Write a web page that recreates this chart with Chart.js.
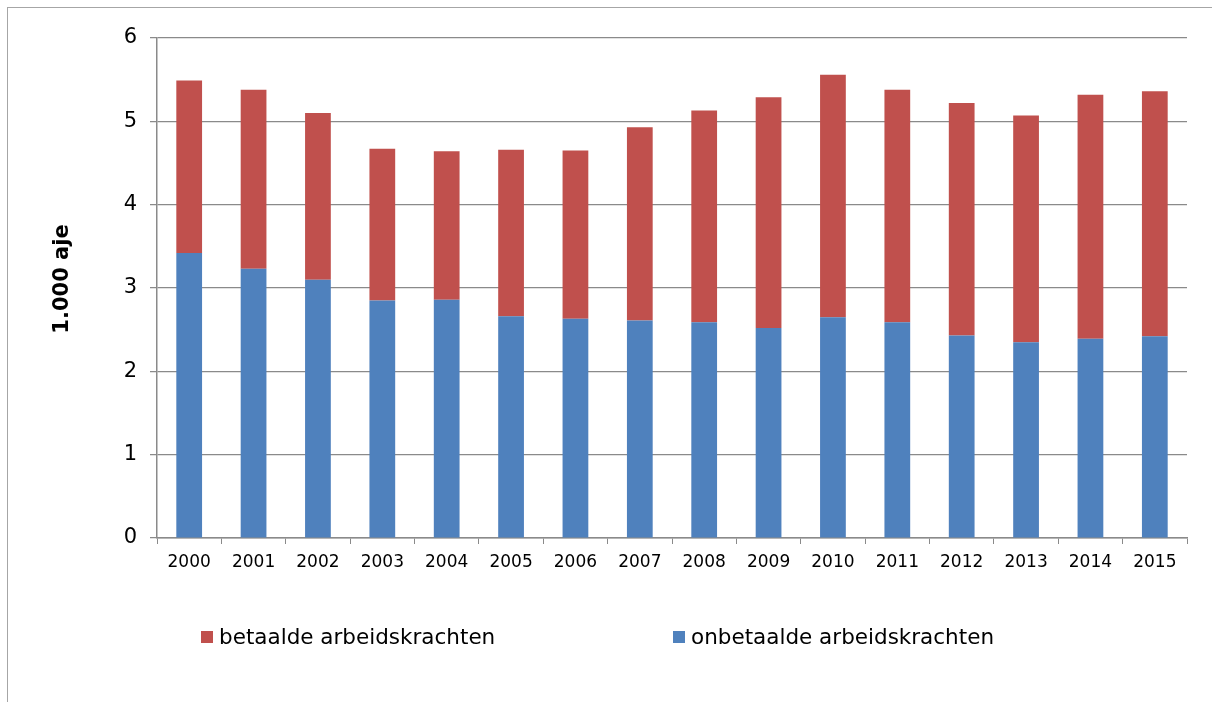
<!DOCTYPE html>
<html>
<head>
<meta charset="utf-8">
<script src="https://cdn.jsdelivr.net/npm/chart.js@4.4.1/dist/chart.umd.min.js"></script>
<style>
  html, body { margin: 0; padding: 0; background: #fff; }
  #wrap { position: relative; width: 1212px; height: 702px; overflow: hidden; }
  #frame { position: absolute; left: 7px; top: 7px; width: 1400px; height: 900px; border: 1px solid #a6a6a6; }
  #chart { position: absolute; left: 0; top: 0; }
</style>
</head>
<body>
<div id="wrap">
  <div id="frame"></div>
  <canvas id="chart" width="1212" height="702"></canvas>
</div>
<script>
const years = ['2000', '2001', '2002', '2003', '2004', '2005', '2006', '2007',
  '2008', '2009', '2010', '2011', '2012', '2013', '2014', '2015'];
const onbetaald = [3.42, 3.23, 3.10, 2.85, 2.86, 2.66, 2.63, 2.61,
  2.59, 2.52, 2.65, 2.59, 2.43, 2.35, 2.39, 2.42];
const betaald = [2.07, 2.15, 2.00, 1.82, 1.78, 2.00, 2.02, 2.32,
  2.54, 2.77, 2.91, 2.79, 2.79, 2.72, 2.93, 2.94];
const yTicks = [0, 1, 2, 3, 4, 5, 6];
const yTitle = '1.000 aje';

const FONT = '"DejaVu Sans", Verdana, sans-serif';
const gridGrey = '#8a8a8a';

// legend drawn by hand so the items sit where Excel put them
const legendItems = [
  { label: 'betaalde arbeidskrachten', color: '#C0504D', x: 201 },
  { label: 'onbetaalde arbeidskrachten', color: '#4F81BD', x: 673 }
];

const excelLegend = {
  id: 'excelLegend',
  afterDraw(chart) {
    const ctx = chart.ctx;
    const y = 637;
    ctx.save();
    ctx.font = '21.5px ' + FONT;
    ctx.textBaseline = 'middle';
    ctx.textAlign = 'left';
    legendItems.forEach(item => {
      ctx.fillStyle = item.color;
      ctx.fillRect(item.x, y - 6, 12, 12);
      ctx.fillStyle = '#000';
      ctx.fillText(item.label, item.x + 18, y + 1);
    });

    // y axis title, a bit above the plot middle like in the original
    ctx.translate(63, 279);
    ctx.rotate(-Math.PI / 2);
    ctx.font = 'bold 21px ' + FONT;
    ctx.textAlign = 'center';
    ctx.fillText(yTitle, 0, 0);
    ctx.restore();
  }
};

new Chart(document.getElementById('chart'), {
  type: 'bar',
  data: {
    labels: years,
    datasets: [
      {
        label: 'onbetaalde arbeidskrachten',
        data: onbetaald,
        backgroundColor: '#4F81BD',
        borderWidth: 0,
        barPercentage: 0.4,
        categoryPercentage: 1
      },
      {
        label: 'betaalde arbeidskrachten',
        data: betaald,
        backgroundColor: '#C0504D',
        borderWidth: 0,
        barPercentage: 0.4,
        categoryPercentage: 1
      }
    ]
  },
  options: {
    responsive: false,
    animation: false,
    devicePixelRatio: 1,
    layout: {
      padding: { left: 0, right: 25, top: 38, bottom: 124 }
    },
    plugins: {
      legend: { display: false },
      tooltip: { enabled: false }
    },
    scales: {
      x: {
        stacked: true,
        afterFit(scale) { scale.height = 40; },
        grid: {
          offset: true,
          drawOnChartArea: false,
          drawTicks: true,
          tickLength: 6,
          color: gridGrey,
          lineWidth: 1
        },
        border: { color: gridGrey, width: 1.5 },
        ticks: {
          color: '#000',
          padding: 8,
          maxRotation: 0,
          autoSkip: false,
          font: { family: FONT, size: 17 }
        }
      },
      y: {
        stacked: true,
        min: 0,
        max: 6,
        afterFit(scale) { scale.width = 157; },
        afterBuildTicks(scale) { scale.ticks = yTicks.map(v => ({ value: v })); },
        grid: {
          color: gridGrey,
          lineWidth: 1.25,
          drawTicks: true,
          tickLength: 7
        },
        border: { color: gridGrey, width: 1.5 },
        ticks: {
          color: '#000',
          padding: 13,
          font: { family: FONT, size: 21 }
        }
      }
    }
  },
  plugins: [excelLegend]
});
</script>
</body>
</html>
